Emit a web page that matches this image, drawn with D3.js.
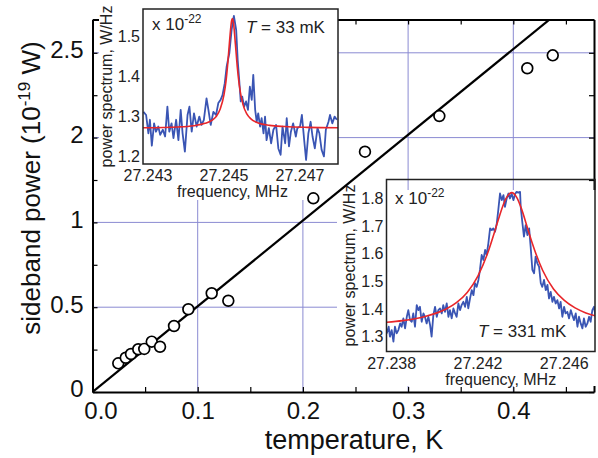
<!DOCTYPE html>
<html>
<head>
<meta charset="utf-8">
<script src="https://cdn.jsdelivr.net/npm/d3@7"></script>
<style>
  body { margin: 0; background: #fff; }
  svg { display: block; font-family: 'Liberation Sans', Arial, sans-serif; }
</style>
</head>
<body>
<div id="chart"></div>
<script>
// main chart: sideband power vs temperature
let tempK = [0.0245, 0.0316, 0.0366, 0.0435, 0.0492, 0.0563, 0.0642, 0.0775, 0.0911, 0.1133, 0.1291, 0.2099, 0.259, 0.3297, 0.4133, 0.4375]
let sideband = [0.169, 0.202, 0.224, 0.252, 0.254, 0.297, 0.267, 0.389, 0.488, 0.582, 0.538, 1.142, 1.417, 1.627, 1.909, 1.985]
let fitLine = [[0, 0], [0.45, 2.275]]

let xTickVals = [0, 0.1, 0.2, 0.3, 0.4]
let xTickLabels = ['0.0', '0.1', '0.2', '0.3', '0.4']
let xMinorVals = [0, 0.05, 0.1, 0.15, 0.2, 0.25, 0.3, 0.35, 0.4, 0.45]
// the printed y labels skip 1.5, so positions and labels are kept apart
let yTickVals = [0, 0.5, 1, 1.5, 2]
let yTickLabels = ['0', '0.5', '1', '2', '2.5']
let yMinorVals = [0, 0.25, 0.5, 0.75, 1, 1.25, 1.5, 1.75, 2]
let xGrid = [0.1, 0.2, 0.3, 0.4]
let yGrid = [0.5, 1, 1.5, 2]

// inset at T = 33 mK
let spec33 = [[27.24288,1.311],[27.24295,1.303],[27.24301,1.257],[27.24305,1.291],[27.2431,1.226],[27.24316,1.282],[27.24321,1.261],[27.24327,1.274],[27.24332,1.253],[27.24339,1.266],[27.24345,1.249],[27.24351,1.324],[27.24356,1.261],[27.24362,1.282],[27.24367,1.245],[27.24374,1.291],[27.2438,1.24],[27.24386,1.316],[27.24391,1.257],[27.24397,1.211],[27.24404,1.303],[27.24409,1.324],[27.24415,1.261],[27.24421,1.307],[27.24428,1.274],[27.24435,1.299],[27.24441,1.278],[27.24447,1.291],[27.24454,1.345],[27.24459,1.316],[27.24465,1.278],[27.24472,1.311],[27.24479,1.303],[27.24485,1.333],[27.24491,1.341],[27.24496,1.353],[27.24502,1.383],[27.24507,1.425],[27.24514,1.458],[27.2452,1.517],[27.24526,1.552],[27.24532,1.517],[27.24536,1.441],[27.2454,1.391],[27.24544,1.337],[27.24548,1.349],[27.24553,1.324],[27.24558,1.337],[27.24563,1.316],[27.24568,1.374],[27.24573,1.341],[27.24577,1.404],[27.24582,1.316],[27.24586,1.286],[27.2459,1.307],[27.24595,1.274],[27.24599,1.295],[27.24604,1.257],[27.24608,1.299],[27.24612,1.24],[27.24618,1.27],[27.24624,1.232],[27.2463,1.266],[27.24637,1.278],[27.24643,1.219],[27.24649,1.203],[27.24654,1.274],[27.24661,1.232],[27.24665,1.295],[27.24671,1.224],[27.24676,1.261],[27.24682,1.282],[27.24689,1.249],[27.24693,1.27],[27.247,1.274],[27.24705,1.303],[27.24711,1.24],[27.24716,1.19],[27.24722,1.257],[27.24728,1.286],[27.24733,1.249],[27.24739,1.219],[27.24746,1.27],[27.24751,1.257],[27.24757,1.215],[27.24763,1.199],[27.24768,1.266],[27.24775,1.286],[27.24779,1.303],[27.24785,1.282],[27.24791,1.299],[27.24797,1.291]]
let fit33 = [[27.24287,1.271],[27.2438,1.273],[27.2442,1.276],[27.2445,1.282],[27.2447,1.291],[27.2448,1.3],[27.2449,1.318],[27.245,1.354],[27.24505,1.386],[27.2451,1.434],[27.24515,1.493],[27.2452,1.54],[27.24522,1.545],[27.24525,1.534],[27.2453,1.481],[27.24535,1.423],[27.2454,1.379],[27.2455,1.329],[27.2456,1.306],[27.2457,1.294],[27.2459,1.283],[27.2462,1.277],[27.2466,1.274],[27.2472,1.272],[27.24801,1.271]]
let ticks33x = [27.243, 27.245, 27.247]
let ticks33y = [1.2, 1.3, 1.4, 1.5]

// inset at T = 331 mK
let spec331 = [[27.23777,1.312],[27.23786,1.336],[27.23792,1.3],[27.238,1.324],[27.23808,1.282],[27.23815,1.336],[27.23823,1.312],[27.23831,1.324],[27.23839,1.348],[27.23846,1.336],[27.23854,1.366],[27.23862,1.33],[27.2387,1.372],[27.23877,1.396],[27.23885,1.36],[27.23893,1.354],[27.239,1.384],[27.23908,1.336],[27.23916,1.414],[27.23924,1.396],[27.23931,1.408],[27.23939,1.354],[27.23947,1.384],[27.23954,1.372],[27.23962,1.348],[27.2397,1.372],[27.23978,1.342],[27.23985,1.3],[27.23993,1.378],[27.24001,1.408],[27.24009,1.372],[27.24016,1.396],[27.24024,1.402],[27.24032,1.384],[27.24039,1.414],[27.24047,1.39],[27.24055,1.42],[27.24063,1.372],[27.2407,1.396],[27.24078,1.366],[27.24086,1.402],[27.24094,1.384],[27.24101,1.372],[27.24109,1.42],[27.24117,1.396],[27.24124,1.414],[27.24132,1.426],[27.2414,1.408],[27.24148,1.444],[27.24155,1.402],[27.24163,1.438],[27.24171,1.468],[27.24179,1.45],[27.24186,1.493],[27.24194,1.48],[27.24202,1.505],[27.24209,1.541],[27.24217,1.595],[27.24225,1.577],[27.24233,1.613],[27.2424,1.595],[27.24248,1.637],[27.24256,1.691],[27.24264,1.685],[27.24271,1.691],[27.24279,1.679],[27.24287,1.709],[27.24294,1.757],[27.24302,1.817],[27.2431,1.793],[27.24318,1.811],[27.24325,1.769],[27.24333,1.799],[27.24341,1.817],[27.24348,1.799],[27.24356,1.817],[27.24364,1.793],[27.24372,1.815],[27.24379,1.823],[27.24387,1.82],[27.24395,1.823],[27.24398,1.769],[27.24406,1.709],[27.24413,1.661],[27.24421,1.703],[27.24429,1.667],[27.24437,1.691],[27.24444,1.625],[27.24452,1.541],[27.2446,1.529],[27.24467,1.589],[27.24475,1.565],[27.24483,1.553],[27.24491,1.493],[27.24498,1.48],[27.24506,1.505],[27.24514,1.468],[27.24522,1.487],[27.24529,1.438],[27.24537,1.462],[27.24545,1.426],[27.24552,1.444],[27.2456,1.42],[27.24568,1.432],[27.24576,1.402],[27.24583,1.426],[27.24591,1.372],[27.24599,1.408],[27.24606,1.384],[27.24614,1.39],[27.24622,1.366],[27.2463,1.396],[27.24637,1.378],[27.24645,1.36],[27.24653,1.384],[27.24661,1.336],[27.24668,1.372],[27.24676,1.348],[27.24684,1.33],[27.24691,1.366],[27.24699,1.336],[27.24707,1.348],[27.24715,1.372],[27.24722,1.354],[27.2473,1.396],[27.24738,1.408],[27.24746,1.366],[27.2475,1.36]]
let fit331 = [[27.23777,1.352],[27.2385,1.358],[27.2395,1.372],[27.2405,1.399],[27.241,1.423],[27.2415,1.46],[27.242,1.52],[27.2425,1.613],[27.2428,1.686],[27.243,1.737],[27.2433,1.799],[27.24356,1.82],[27.2438,1.802],[27.244,1.765],[27.2443,1.691],[27.2445,1.641],[27.245,1.539],[27.2455,1.472],[27.246,1.431],[27.2465,1.404],[27.247,1.386],[27.2475,1.374]]
let ticks331x = [27.238, 27.242, 27.246]
let ticks331y = [1.3, 1.4, 1.5, 1.6, 1.7, 1.8]

let margin = { top: 19.5, left: 92.5, right: 4, bottom: 66 }
let width = 598 - margin.left - margin.right
let height = 458 - margin.top - margin.bottom

let gridColor = '#8a8ad2'
let blue = '#3a55b4'
let red = '#e8262a'

let root = d3
  .select('#chart')
  .append('svg')
  .attr('width', 598)
  .attr('height', 458)

let svg = root
  .append('g')
  .attr('transform', 'translate(' + margin.left + ',' + margin.top + ')')

let x = d3.scaleLinear().domain([0, width / 1052]).range([0, width])
let y = d3.scaleLinear().domain([0, height / 169.6]).range([height, 0])

// grid
svg.selectAll('.vgrid')
  .data(xGrid)
  .enter()
  .append('line')
  .attr('x1', d => x(d))
  .attr('x2', d => x(d))
  .attr('y1', 0)
  .attr('y2', height)
  .attr('stroke', gridColor)
  .attr('stroke-width', 1)

svg.selectAll('.hgrid')
  .data(yGrid)
  .enter()
  .append('line')
  .attr('x1', 0)
  .attr('x2', width)
  .attr('y1', d => y(d))
  .attr('y2', d => y(d))
  .attr('stroke', gridColor)
  .attr('stroke-width', 1)

// frame with inward ticks on all four sides
function frameAxis(axis, transform) {
  let g = svg.append('g')
    .attr('transform', transform)
    .call(axis.tickSizeOuter(0).tickFormat(''))
  g.select('.domain').attr('stroke', '#000').attr('stroke-width', 2)
  g.selectAll('.tick line').attr('stroke', '#000').attr('stroke-width', 1.2)
}
frameAxis(d3.axisBottom(x).tickValues(xMinorVals).tickSizeInner(-5), 'translate(0,' + height + ')')
frameAxis(d3.axisTop(x).tickValues(xMinorVals).tickSizeInner(-5), 'translate(0,0)')
frameAxis(d3.axisLeft(y).tickValues(yMinorVals).tickSizeInner(-5), 'translate(0,0)')
frameAxis(d3.axisRight(y).tickValues(yMinorVals).tickSizeInner(-5), 'translate(' + width + ',0)')

// tick labels
let xLab = svg.append('g')
  .attr('transform', 'translate(0,' + height + ')')
  .call(d3.axisBottom(x).tickValues(xTickVals).tickSize(0).tickPadding(10)
    .tickFormat((d, i) => xTickLabels[i]))
xLab.select('.domain').remove()
xLab.selectAll('text').attr('font-family', null).attr('font-size', 24).attr('fill', '#111')
  .attr('dx', (d, i) => i === 0 ? 8 : 0)

let yLab = svg.append('g')
  .call(d3.axisLeft(y).tickValues(yTickVals).tickSize(0).tickPadding(9)
    .tickFormat((d, i) => yTickLabels[i]))
yLab.select('.domain').remove()
yLab.selectAll('text').attr('font-family', null).attr('font-size', 24).attr('fill', '#111')
  .attr('dy', '0.2em')

// axis titles
root.append('text')
  .attr('x', 354)
  .attr('y', 449)
  .attr('text-anchor', 'middle')
  .attr('font-size', 27)
  .attr('fill', '#111')
  .text('temperature, K')

let yTitle = root.append('text')
  .attr('transform', 'translate(40,188) rotate(-90)')
  .attr('text-anchor', 'middle')
  .attr('font-size', 26)
  .attr('fill', '#111')
yTitle.append('tspan').text('sideband power (10')
yTitle.append('tspan').attr('font-size', 17).attr('dy', -10).text('-19')
yTitle.append('tspan').attr('dy', 10).text(' W)')

// insets
function drawInset(o) {
  root.append('rect')
    .attr('x', o.bg[0]).attr('y', o.bg[1])
    .attr('width', o.bg[2]).attr('height', o.bg[3])
    .attr('fill', '#fff')

  let ix = d3.scaleLinear().domain(o.xDomain).range([o.left, o.right])
  let iy = d3.scaleLinear().domain(o.yDomain).range([o.bottom, o.top])
  let g = root.append('g')

  g.append('defs').append('clipPath').attr('id', o.id)
    .append('rect')
    .attr('x', o.left).attr('y', o.top)
    .attr('width', o.right - o.left).attr('height', o.bottom - o.top)

  let line = d3.line().x(d => ix(d[0])).y(d => iy(d[1]))

  g.append('path')
    .datum(o.spec)
    .attr('d', line)
    .attr('fill', 'none')
    .attr('stroke', blue)
    .attr('stroke-width', 1.8)
    .attr('stroke-linejoin', 'round')
    .attr('clip-path', 'url(#' + o.id + ')')

  g.append('path')
    .datum(o.fit)
    .attr('d', line.curve(d3.curveMonotoneX))
    .attr('fill', 'none')
    .attr('stroke', red)
    .attr('stroke-width', 1.6)
    .attr('clip-path', 'url(#' + o.id + ')')

  g.append('rect')
    .attr('x', o.left).attr('y', o.top)
    .attr('width', o.right - o.left).attr('height', o.bottom - o.top)
    .attr('fill', 'none')
    .attr('stroke', '#222')
    .attr('stroke-width', 1.5)

  g.selectAll('.iy')
    .data(o.ticksY)
    .enter()
    .append('text')
    .attr('x', o.left - 3)
    .attr('y', d => iy(d))
    .attr('dy', '0.36em')
    .attr('text-anchor', 'end')
    .attr('font-size', 16)
    .attr('fill', '#222')
    .text(d => d.toFixed(1))

  g.selectAll('.ix')
    .data(o.ticksX)
    .enter()
    .append('text')
    .attr('x', d => ix(d))
    .attr('y', o.bottom + 17)
    .attr('text-anchor', 'middle')
    .attr('font-size', 16)
    .attr('fill', '#222')
    .text(d => d.toFixed(3))

  g.append('text')
    .attr('x', (o.left + o.right) / 2 + o.xTitleShift)
    .attr('y', o.bottom + 33)
    .attr('text-anchor', 'middle')
    .attr('font-size', 16)
    .attr('fill', '#222')
    .text('frequency, MHz')

  g.append('text')
    .attr('transform', 'translate(' + o.yTitleX + ',' + (o.top + o.bottom) / 2 + ') rotate(-90)')
    .attr('text-anchor', 'middle')
    .attr('font-size', 16)
    .attr('fill', '#222')
    .text('power spectrum, W/Hz')

  let sc = g.append('text')
    .attr('x', o.scaleAt[0]).attr('y', o.scaleAt[1])
    .attr('font-size', 17)
    .attr('fill', '#222')
  sc.append('tspan').text('x 10')
  sc.append('tspan').attr('font-size', 12).attr('dy', -7).text('-22')

  let tl = g.append('text')
    .attr('x', o.tempAt[0]).attr('y', o.tempAt[1])
    .attr('font-size', 17)
    .attr('fill', '#222')
  tl.append('tspan').attr('font-style', 'italic').text('T')
  tl.append('tspan').text(' = ' + o.tempLabel)
}

drawInset({
  id: 'clip33', bg: [99, 0, 239, 200],
  left: 143, right: 338, top: 9, bottom: 164,
  xDomain: [27.242868, 27.248], yDomain: [1.1799, 1.5693],
  spec: spec33, fit: fit33, ticksX: ticks33x, ticksY: ticks33y,
  xTitleShift: -8, yTitleX: 112,
  scaleAt: [152, 30], tempAt: [246, 33], tempLabel: '33 mK'
})

drawInset({
  id: 'clip331', bg: [337, 190, 261, 196],
  left: 386.5, right: 595, top: 179.5, bottom: 351.5,
  xDomain: [27.237759, 27.247423], yDomain: [1.2466, 1.8675],
  spec: spec331, fit: fit331, ticksX: ticks331x, ticksY: ticks331y,
  xTitleShift: 10, yTitleX: 355,
  scaleAt: [395, 204], tempAt: [478, 337], tempLabel: '331 mK'
})

// fit line and points drawn above the insets
let over = root
  .append('g')
  .attr('transform', 'translate(' + margin.left + ',' + margin.top + ')')

over.append('defs').append('clipPath').attr('id', 'plotclip')
  .append('rect').attr('width', width).attr('height', height)

over.append('path')
  .datum(fitLine)
  .attr('d', d3.line().x(d => x(d[0])).y(d => y(d[1])))
  .attr('stroke', '#000')
  .attr('stroke-width', 2.2)
  .attr('clip-path', 'url(#plotclip)')

over.selectAll('.pt')
  .data(tempK)
  .enter()
  .append('circle')
  .attr('class', 'pt')
  .attr('cx', d => x(d))
  .attr('cy', (d, i) => y(sideband[i]))
  .attr('r', 5.4)
  .attr('fill', '#fff')
  .attr('stroke', '#000')
  .attr('stroke-width', 1.7)
</script>
</body>
</html>
